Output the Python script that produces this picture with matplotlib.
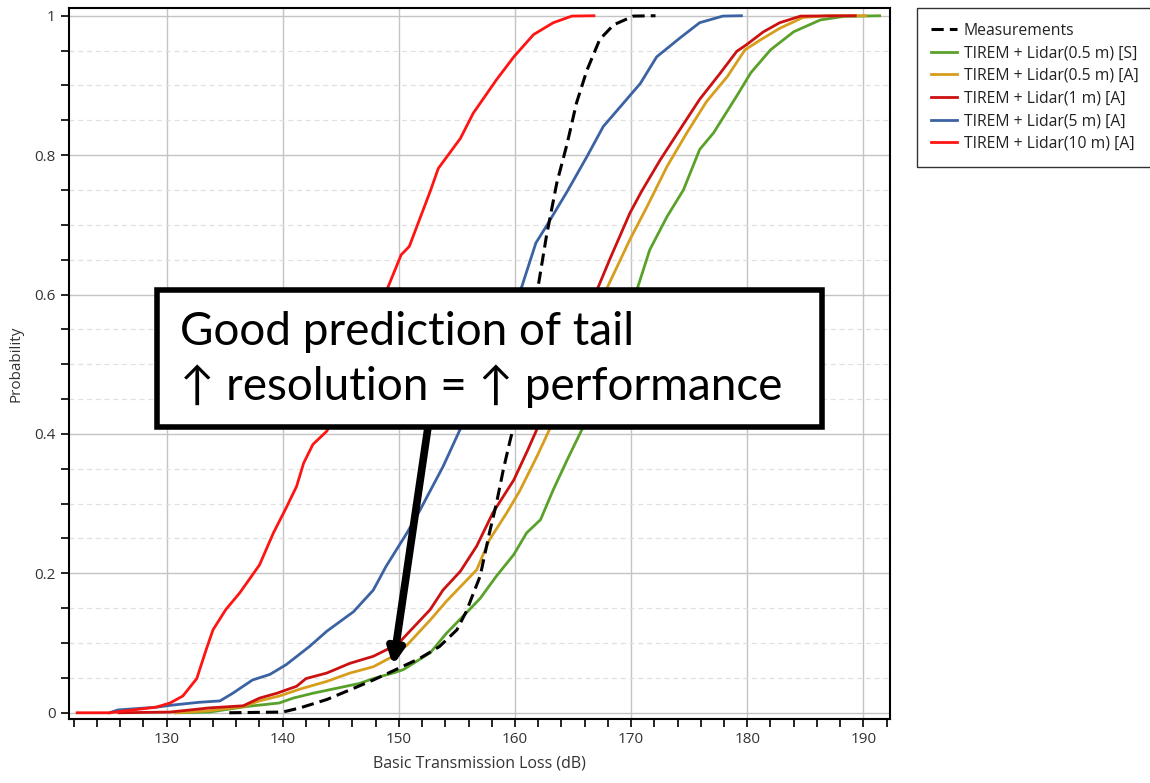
import numpy as np
import matplotlib
matplotlib.use('Agg')
import matplotlib.pyplot as plt
from matplotlib.patches import Rectangle

# CDF curves (x = loss in dB, y = probability)
meas_x = [135.4, 140.0, 141.5, 143.8, 146.1, 147.8, 149.5, 151.8, 153.5, 155.0, 155.8, 157.0,
          157.8, 158.4, 159.0, 159.6, 159.9, 161.0, 162.0, 162.7, 163.6, 164.5, 165.3, 166.2,
          167.3, 168.5, 170.2, 172.1]
meas_y = [0.0, 0.001, 0.007, 0.019, 0.035, 0.047, 0.060, 0.078, 0.095, 0.119, 0.145, 0.196,
          0.258, 0.300, 0.349, 0.392, 0.411, 0.51, 0.612, 0.683, 0.760, 0.817, 0.875, 0.922,
          0.966, 0.987, 0.9995, 1.0]

s05_x = [130.8, 133.7, 136.9, 139.7, 140.9, 142.6, 144.6, 146.6, 147.8, 149.5, 150.4, 152.7,
         154.1, 155.5, 157.0, 158.4, 159.9, 161.0, 162.2, 163.3, 164.5, 165.9, 168.2, 170.6,
         171.6, 173.1, 174.5, 175.9, 177.1, 179.1, 180.3, 182.0, 184.0, 186.3, 188.3, 191.4]
s05_y = [0.0, 0.001, 0.009, 0.014, 0.021, 0.028, 0.035, 0.042, 0.049, 0.057, 0.062, 0.086,
         0.114, 0.138, 0.164, 0.196, 0.227, 0.258, 0.277, 0.320, 0.363, 0.411, 0.51, 0.612,
         0.664, 0.712, 0.750, 0.808, 0.832, 0.885, 0.918, 0.951, 0.977, 0.994, 0.999, 1.0]

a05_x = [130.8, 133.7, 136.6, 138.0, 139.7, 141.5, 143.8, 145.8, 147.8, 149.5, 150.7, 152.7,
         154.1, 156.7, 157.8, 159.3, 160.4, 161.9, 163.1, 165.7, 168.0, 169.9, 171.4, 173.1,
         174.8, 176.5, 178.3, 179.8, 181.2, 182.8, 184.8, 186.9, 190.2]
a05_y = [0.0, 0.003, 0.009, 0.017, 0.024, 0.034, 0.045, 0.057, 0.066, 0.081, 0.097, 0.133,
         0.160, 0.205, 0.248, 0.287, 0.318, 0.368, 0.411, 0.51, 0.612, 0.679, 0.727, 0.784,
         0.832, 0.877, 0.913, 0.951, 0.966, 0.982, 0.9975, 1.0, 1.0]

a1_x = [125.9, 130.3, 133.7, 136.6, 138.0, 139.5, 141.2, 142.0, 143.8, 145.8, 147.8, 149.5,
        150.1, 152.7, 153.8, 155.3, 156.7, 158.1, 159.9, 161.1, 162.0, 164.7, 167.2, 168.2,
        169.9, 170.9, 172.5, 173.9, 175.9, 177.6, 179.1, 179.9, 181.4, 182.8, 184.6, 189.3]
a1_y = [0.0, 0.001, 0.007, 0.010, 0.021, 0.028, 0.038, 0.049, 0.057, 0.071, 0.081, 0.095,
        0.102, 0.148, 0.176, 0.203, 0.239, 0.287, 0.334, 0.377, 0.411, 0.51, 0.612, 0.652,
        0.717, 0.748, 0.793, 0.829, 0.880, 0.916, 0.949, 0.958, 0.977, 0.990, 0.9995, 1.0]

a5_x = [125.1, 125.8, 129.1, 130.5, 132.8, 134.6, 135.7, 137.4, 138.9, 140.3, 142.3, 143.8,
        146.1, 147.8, 148.9, 150.7, 151.8, 153.8, 155.4, 158.0, 160.6, 161.8, 162.7, 164.5,
        166.2, 167.6, 169.1, 170.8, 172.2, 174.2, 175.9, 177.9, 179.5]
a5_y = [0.0, 0.004, 0.008, 0.011, 0.015, 0.017, 0.028, 0.047, 0.055, 0.069, 0.095, 0.117,
        0.145, 0.176, 0.210, 0.258, 0.290, 0.353, 0.411, 0.51, 0.612, 0.674, 0.698, 0.748,
        0.798, 0.841, 0.870, 0.903, 0.941, 0.968, 0.990, 0.9995, 1.0]

a10_x = [122.3, 125.1, 129.1, 130.3, 131.4, 132.6, 133.4, 134.0, 135.1, 136.3, 138.0, 139.2,
         140.3, 141.2, 141.8, 142.6, 143.8, 146.5, 149.1, 150.2, 150.9, 152.7, 153.4, 155.3,
         156.4, 158.4, 159.9, 161.6, 163.3, 164.9, 166.8]
a10_y = [0.0, 0.0, 0.008, 0.014, 0.024, 0.049, 0.090, 0.119, 0.148, 0.172, 0.212, 0.258,
         0.294, 0.325, 0.358, 0.385, 0.404, 0.51, 0.612, 0.657, 0.669, 0.748, 0.781, 0.824,
         0.860, 0.908, 0.941, 0.973, 0.990, 0.9995, 1.0]

labels = ['Measurements', 'TIREM + Lidar(0.5 m) [S]', 'TIREM + Lidar(0.5 m) [A]',
          'TIREM + Lidar(1 m) [A]', 'TIREM + Lidar(5 m) [A]', 'TIREM + Lidar(10 m) [A]']

plt.rcParams['font.family'] = ['Open Sans', 'DejaVu Sans']

fig = plt.figure(figsize=(11.5, 7.83), dpi=100)
ax = fig.add_axes([0.060, 0.0817, 0.714, 0.908])

lw = 2.0
ax.plot(meas_x, meas_y, color='black', lw=2.2, dashes=(4, 2), label=labels[0], zorder=8)
ax.plot(s05_x, s05_y, color='#5aa12b', lw=lw, label=labels[1], zorder=3)
ax.plot(a05_x, a05_y, color='#d79d1c', lw=lw, label=labels[2], zorder=4)
ax.plot(a1_x, a1_y, color='#cc1111', lw=lw, label=labels[3], zorder=5)
ax.plot(a5_x, a5_y, color='#3b62a3', lw=lw, label=labels[4], zorder=6)
ax.plot(a10_x, a10_y, color='#ff1414', lw=lw, label=labels[5], zorder=7)

ax.set_xlim(121.6, 192.3)
ax.set_ylim(-0.009, 1.011)
ax.set_xticks(np.arange(130, 191, 10))
ax.set_xticks(np.arange(122, 193, 2), minor=True)
ax.set_yticks([0, 0.2, 0.4, 0.6, 0.8, 1.0])
ax.set_yticklabels(['0', '0.2', '0.4', '0.6', '0.8', '1'])
ax.set_yticks(np.arange(0.05, 1.0, 0.05), minor=True)
ax.tick_params(axis='both', which='both', direction='out', colors='black', labelcolor='#333333',
               labelsize=11)
ax.tick_params(axis='both', which='major', length=6, width=1.2)
ax.tick_params(axis='both', which='minor', length=6, width=1.2)

ax.grid(True, which='major', color='#c4c4c4', lw=1.0)
ax.grid(True, which='minor', axis='y', color='#e0e0e0', lw=0.9, ls=(0, (4, 3)))
ax.set_axisbelow(True)
for s in ax.spines.values():
    s.set_linewidth(1.5)

ax.set_xlabel('Basic Transmission Loss (dB)', fontsize=11.5, color='#333333', labelpad=6)
ax.set_ylabel('Probability', fontsize=11, color='#333333', labelpad=8)

leg = fig.legend(loc='upper left', bbox_to_anchor=(0.797, 0.99), fontsize=11.3, frameon=True,
                 fancybox=False, edgecolor='black', handlelength=1.6, labelspacing=0.42,
                 borderpad=0.95, handletextpad=0.45, borderaxespad=0)
leg.get_frame().set_linewidth(1.0)
for t in leg.get_texts():
    t.set_color('#222222')

# annotation box and arrow
ax.annotate('', xy=(149.5, 0.068), xytext=(152.6, 0.42),
            arrowprops=dict(arrowstyle='-|>,head_length=0.9,head_width=0.45', color='black',
                            lw=5.5, shrinkA=0, shrinkB=0),
            zorder=9)
ax.add_patch(Rectangle((0.107, 0.411), 0.81, 0.192, transform=ax.transAxes, facecolor='white',
                       edgecolor='black', lw=4, zorder=10))
ax.text(0.135, 0.545, 'Good prediction of tail', transform=ax.transAxes, fontsize=33,
        family=['Lato', 'DejaVu Sans'], va='center', ha='left', zorder=11)
ax.text(0.135, 0.468, '↑ resolution = ↑ performance', transform=ax.transAxes, fontsize=33,
        family=['Lato', 'DejaVu Sans'], va='center', ha='left', zorder=11)

fig.savefig('out.png', dpi=100)
